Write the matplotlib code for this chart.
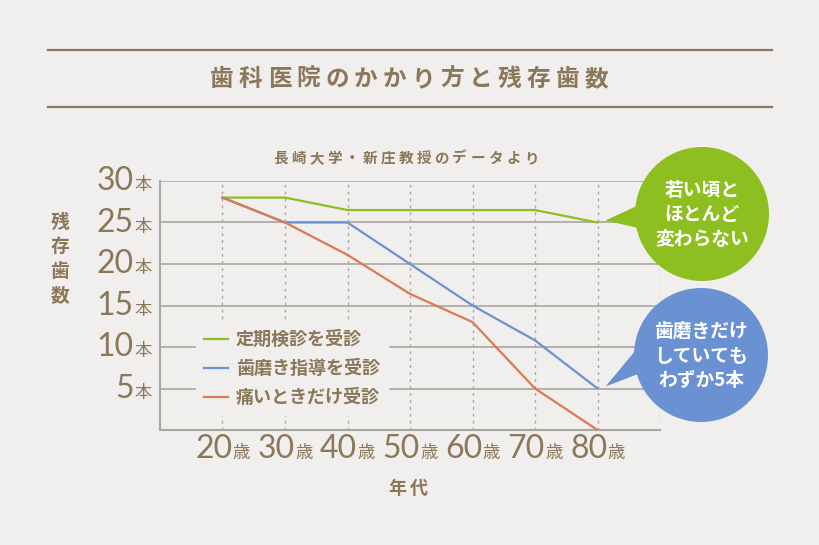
import matplotlib
matplotlib.use("Agg")
import matplotlib.pyplot as plt
from matplotlib.lines import Line2D
from matplotlib.patches import Circle, Polygon

plt.rcParams['font.family'] = ['Noto Sans CJK JP', 'DejaVu Sans']

# data
ages = [20, 30, 40, 50, 60, 70, 80]
age_labels = ["20", "30", "40", "50", "60", "70", "80"]
teeth_checkup = [28, 28, 26.5, 26.5, 26.5, 26.5, 25]
teeth_brushing = [28, 25, 25, 20, 15, 10.8, 5]
teeth_pain = [28, 25, 21.1, 16.4, 13, 5, 0]
series_names = ["定期検診を受診", "歯磨き指導を受診", "痛いときだけ受診"]
y_ticks = [5, 10, 15, 20, 25, 30]

bg = "#f1efed"
brown = "#8b7759"
green = "#8cbf1f"
blue = "#6a92d3"
orange = "#da7a50"
grid = "#a9a6a2"
num_font = dict(fontsize=23, family="Lato", fontweight="normal", color=brown)

fig = plt.figure(figsize=(8.2, 5.45), dpi=100, facecolor=bg)

def spaced(text, cx, cy, step, **kw):
    # draw text char by char with tracking (pixel coords, y from top)
    x0 = cx - step * (len(text) - 1) / 2
    for i, ch in enumerate(text):
        fig.text((x0 + i * step) / 820, 1 - cy / 545, ch, ha="center", va="center", **kw)

# title block
for yy in [1 - 50/545, 1 - 107/545]:
    fig.add_artist(Line2D([48/820, 772/820], [yy, yy], color=brown, lw=1.6))
spaced("歯科医院のかかり方と残存歯数", 409, 79, 28.8, fontsize=17, fontweight="bold", color=brown)
spaced("長崎大学・新庄教授のデータより", 406, 158, 17.9, fontsize=10.5, fontweight="bold", color=brown)

ax = fig.add_axes([160/820, 1 - 430/545, 500/820, 249/545])
ax.set_facecolor(bg)
ax.set_xlim(10, 90)
ax.set_ylim(0, 30)

for v in y_ticks:
    ax.axhline(v, color=grid, lw=1.2, zorder=1)
for x in ages + [90]:
    ax.axvline(x, color=grid, lw=1, ls=(0, (2, 3)), zorder=1)
for s in ["top", "right"]:
    ax.spines[s].set_visible(False)
for s in ["left", "bottom"]:
    ax.spines[s].set_color(grid)
    ax.spines[s].set_linewidth(1.5)
ax.set_xticks([])
ax.set_yticks([])

ax.plot(ages, teeth_checkup, color=green, lw=1.6, label=series_names[0], zorder=3)
ax.plot(ages, teeth_brushing, color=blue, lw=1.6, label=series_names[1], zorder=3)
ax.plot(ages, teeth_pain, color=orange, lw=1.6, label=series_names[2], zorder=3)

leg = ax.legend(loc="upper left", bbox_to_anchor=(0.054, 0.47), frameon=True,
                facecolor=bg, edgecolor=bg, framealpha=1, fancybox=False,
                handlelength=1.3, handletextpad=0.45, labelspacing=0.55,
                borderpad=0.45, prop={"size": 13, "weight": "bold"})
leg.set_zorder(5)
for t in leg.get_texts():
    t.set_color(brown)

# y tick labels
for v in y_ticks:
    ax.annotate(str(v), xy=(0, v), xycoords=("axes fraction", "data"),
                xytext=(-19, -6.5), textcoords="offset points", ha="right", va="baseline",
                **num_font)
    ax.annotate("本", xy=(0, v), xycoords=("axes fraction", "data"),
                xytext=(-18.5, -6.5), textcoords="offset points", ha="left", va="baseline",
                fontsize=12.5, color=brown)
# x tick labels
for x, lab in zip(ages, age_labels):
    ax.annotate(lab, xy=(x, 0), xycoords=("data", "axes fraction"),
                xytext=(7, -20), textcoords="offset points", ha="right", va="baseline",
                **num_font)
    ax.annotate("歳", xy=(x, 0), xycoords=("data", "axes fraction"),
                xytext=(7.5, -20), textcoords="offset points", ha="left", va="baseline",
                fontsize=12.5, color=brown)

spaced("年代", 408, 488, 22, fontsize=13, fontweight="bold", color=brown)
for i, ch in enumerate("残存歯数"):
    fig.text(60/820, 1 - (222 + i * 24.5) / 545, ch, ha="center", va="center",
             fontsize=13.5, fontweight="bold", color=brown)

# speech bubbles in pixel coordinates
ov = fig.add_axes([0, 0, 1, 1], zorder=10)
ov.set_xlim(0, 820)
ov.set_ylim(0, 545)
ov.axis("off")
ov.patch.set_alpha(0)

def bubble(cx, cy, r, data_pt, color, text):
    tip = ax.transData.transform(data_pt)
    tx, ty = tip[0] + 8, tip[1] + 2
    ov.add_patch(Circle((cx, cy), r, color=color, lw=0))
    ov.add_patch(Polygon([(tx, ty), (cx - r + 6, cy + 10), (cx - r + 12, cy - 16)],
                         closed=True, color=color, lw=0))
    ov.text(cx, cy - 1, text, ha="center", va="center", color="white",
            fontsize=13.5, fontweight="bold", linespacing=1.35)

bubble(702, 545 - 214, 67, (80, 25), green, "若い頃と\nほとんど\n変わらない")
bubble(701, 545 - 355, 67, (80, 5), blue, "歯磨きだけ\nしていても\nわずか5本")

fig.savefig("out.png", dpi=100, facecolor=bg)
